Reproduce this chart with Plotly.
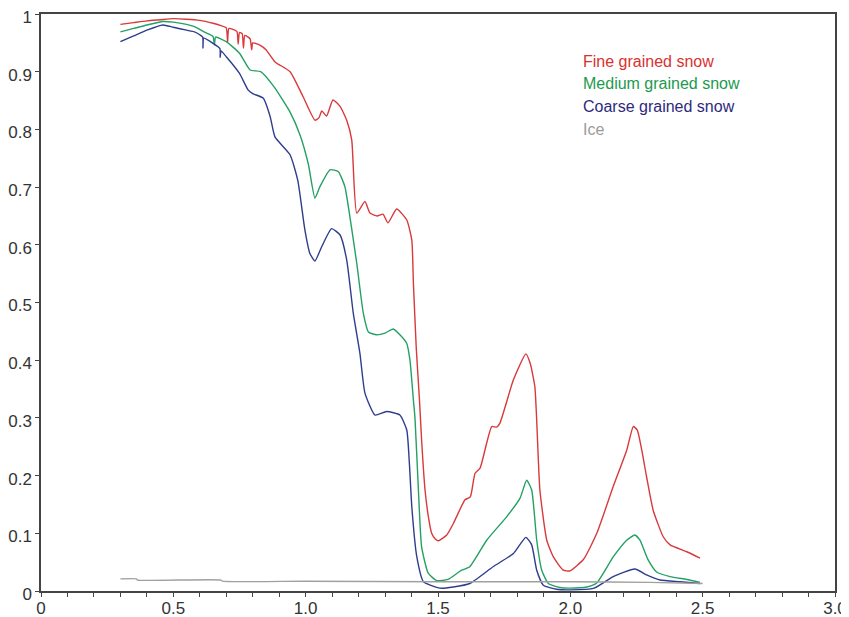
import plotly.graph_objects as go

# ---- data (wavelength in µm, reflectance) ----
fine_x = [0.30, 0.35, 0.40, 0.45, 0.50, 0.55, 0.60, 0.65, 0.68, 0.70, 0.705, 0.71, 0.74, 0.745, 0.75,
          0.76, 0.765, 0.77, 0.79, 0.796, 0.80, 0.827, 0.85, 0.884, 0.941, 0.99, 1.035, 1.05, 1.061,
          1.079, 1.103, 1.13, 1.155, 1.174, 1.193, 1.224, 1.243, 1.27, 1.292, 1.311, 1.344, 1.382,
          1.401, 1.407, 1.418, 1.430, 1.438, 1.451, 1.465, 1.476, 1.49, 1.501, 1.533, 1.558, 1.602,
          1.622, 1.640, 1.659, 1.703, 1.722, 1.734, 1.785, 1.832, 1.848, 1.866, 1.885, 1.911, 1.936,
          1.973, 1.999, 2.05, 2.100, 2.162, 2.213, 2.238, 2.253, 2.270, 2.288, 2.313, 2.351, 2.377,
          2.440, 2.490]
fine_y = [0.982, 0.985, 0.988, 0.990, 0.992, 0.991, 0.989, 0.984, 0.980, 0.976, 0.951, 0.975, 0.970, 0.948, 0.968,
          0.966, 0.941, 0.963, 0.957, 0.938, 0.950, 0.946, 0.938, 0.917, 0.900, 0.857, 0.816, 0.820, 0.832,
          0.823, 0.851, 0.840, 0.816, 0.782, 0.655, 0.675, 0.655, 0.650, 0.653, 0.638, 0.662, 0.643,
          0.608, 0.534, 0.420, 0.331, 0.262, 0.175, 0.125, 0.100, 0.090, 0.087, 0.097, 0.117, 0.158,
          0.163, 0.204, 0.213, 0.285, 0.284, 0.291, 0.366, 0.411, 0.395, 0.354, 0.175, 0.088, 0.059,
          0.036, 0.035, 0.055, 0.100, 0.181, 0.244, 0.285, 0.279, 0.244, 0.198, 0.140, 0.094, 0.080,
          0.068, 0.057]

medium_x = [0.30, 0.35, 0.40, 0.46, 0.50, 0.55, 0.58, 0.62, 0.65, 0.655, 0.66, 0.70, 0.75, 0.79, 0.83,
            0.88, 0.941, 0.979, 1.01, 1.035, 1.054, 1.092, 1.123, 1.148, 1.167, 1.193, 1.218, 1.237,
            1.268, 1.30, 1.331, 1.356, 1.382, 1.394, 1.407, 1.413, 1.426, 1.438, 1.463, 1.495, 1.538,
            1.589, 1.620, 1.684, 1.760, 1.810, 1.835, 1.854, 1.873, 1.892, 1.917, 1.96, 2.0, 2.062,
            2.100, 2.162, 2.213, 2.244, 2.263, 2.294, 2.326, 2.377, 2.440, 2.490]
medium_y = [0.969, 0.975, 0.981, 0.987, 0.986, 0.982, 0.978, 0.968, 0.961, 0.946, 0.960, 0.952, 0.932, 0.903, 0.900,
            0.874, 0.830, 0.790, 0.740, 0.681, 0.701, 0.730, 0.727, 0.701, 0.649, 0.568, 0.481, 0.449,
            0.444, 0.447, 0.454, 0.444, 0.429, 0.400, 0.331, 0.300, 0.175, 0.077, 0.031, 0.018, 0.020,
            0.036, 0.042, 0.088, 0.129, 0.161, 0.192, 0.175, 0.088, 0.036, 0.013, 0.006, 0.005, 0.007,
            0.014, 0.059, 0.088, 0.097, 0.088, 0.054, 0.033, 0.025, 0.020, 0.015]

coarse_x = [0.30, 0.35, 0.40, 0.46, 0.50, 0.55, 0.58, 0.60, 0.611, 0.612, 0.615, 0.65, 0.676, 0.677, 0.68,
            0.70, 0.75, 0.783, 0.80, 0.84, 0.866, 0.884, 0.941, 0.97, 0.997, 1.016, 1.035, 1.061, 1.098,
            1.130, 1.155, 1.180, 1.205, 1.224, 1.262, 1.306, 1.356, 1.382, 1.392, 1.401, 1.420, 1.445,
            1.508, 1.558, 1.620, 1.708, 1.785, 1.832, 1.854, 1.873, 1.898, 1.948, 2.0, 2.09, 2.162,
            2.244, 2.288, 2.339, 2.415, 2.490]
coarse_y = [0.952, 0.962, 0.972, 0.981, 0.977, 0.972, 0.969, 0.964, 0.960, 0.941, 0.958, 0.949, 0.940, 0.925, 0.936,
            0.926, 0.897, 0.868, 0.862, 0.854, 0.822, 0.787, 0.756, 0.712, 0.626, 0.585, 0.572, 0.597, 0.628,
            0.617, 0.574, 0.481, 0.412, 0.343, 0.305, 0.311, 0.305, 0.279, 0.220, 0.146, 0.059, 0.016,
            0.005, 0.007, 0.013, 0.042, 0.065, 0.093, 0.080, 0.036, 0.010, 0.003, 0.002, 0.005, 0.025,
            0.038, 0.028, 0.019, 0.016, 0.013]

ice_x = [0.30, 0.36, 0.365, 0.68, 0.685, 1.0, 1.5, 2.0, 2.3, 2.5]
ice_y = [0.021, 0.021, 0.019, 0.019, 0.017, 0.017, 0.016, 0.016, 0.015, 0.013]

series_names = ["Fine grained snow", "Medium grained snow", "Coarse grained snow", "Ice"]
line_colors = ["#d8393a", "#24a064", "#2e3d8f", "#a0a0a0"]
text_colors = ["#d8322f", "#1c9a4e", "#2d2a7c", "#9b9b9b"]

x_tickvals = [0, 0.5, 1.0, 1.5, 2.0, 2.5, 3.0]
x_ticktext = ["0", "0.5", "1.0", "1.5", "2.0", "2.5", "3.0"]
y_tickvals = [0, 0.1, 0.2, 0.3, 0.4, 0.5, 0.6, 0.7, 0.8, 0.9, 1.0]
y_ticktext = ["0", "0.1", "0.2", "0.3", "0.4", "0.5", "0.6", "0.7", "0.8", "0.9", "1"]

fig = go.Figure()
for xs, ys, name, col in zip([fine_x, medium_x, coarse_x, ice_x],
                             [fine_y, medium_y, coarse_y, ice_y],
                             series_names, line_colors):
    fig.add_trace(go.Scatter(x=xs, y=ys, mode="lines", name=name,
                             line=dict(color=col, width=1.4, shape="spline", smoothing=0.5),
                             showlegend=False))

for i, (name, col) in enumerate(zip(series_names, text_colors)):
    fig.add_annotation(x=0.680, y=0.9185 - i * 0.0393, xref="paper", yref="paper",
                       text=name, showarrow=False, xanchor="left", yanchor="middle",
                       font=dict(family="Liberation Sans, Arial, sans-serif", size=16, color=col))

axis_font = dict(family="Liberation Sans, Arial, sans-serif", size=17, color="#333333")
fig.update_layout(
    width=841, height=609,
    margin=dict(l=33, r=14, t=6, b=26, autoexpand=False),
    paper_bgcolor="white", plot_bgcolor="white",
    xaxis=dict(range=[0, 3], tickvals=x_tickvals, ticktext=x_ticktext, automargin=False,
               ticklabeloverflow="allow", ticklabelstandoff=-3,
               showgrid=False, zeroline=False, showline=True, linecolor="#444444", linewidth=1.5,
               mirror=True, ticks="outside", ticklen=4, tickcolor="#444444", tickfont=axis_font,
               minor=dict(dtick=0.1, ticks="outside", ticklen=4, tickcolor="#444444", showgrid=False)),
    yaxis=dict(range=[0, 1], tickvals=y_tickvals, ticktext=y_ticktext, automargin=False,
               ticklabeloverflow="allow", ticklabelshift=3,
               showgrid=False, zeroline=False, showline=True, linecolor="#444444", linewidth=1.5,
               mirror=True, ticks="outside", ticklen=4, tickcolor="#444444", tickfont=axis_font),
)

fig.write_html("out.html")
